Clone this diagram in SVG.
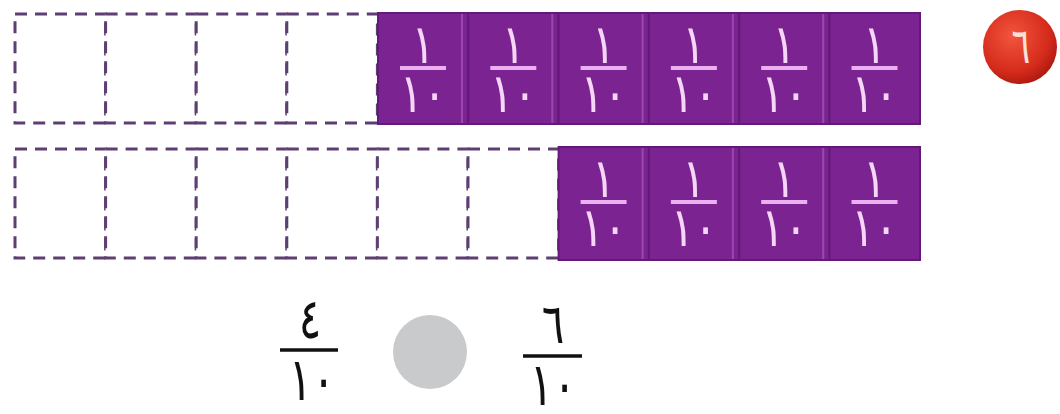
<svg xmlns="http://www.w3.org/2000/svg" width="1060" height="414" viewBox="0 0 1060 414">
<defs>
<radialGradient id="redg" cx="0.4" cy="0.35" r="0.7">
<stop offset="0" stop-color="#f2553d"/>
<stop offset="0.7" stop-color="#d52b1c"/>
<stop offset="1" stop-color="#a8180e"/>
</radialGradient>
</defs>
<style>
.dash{fill:#fff;stroke:#5e3f73;stroke-width:3;stroke-dasharray:12 8}
.tile{fill:#7b2491;stroke:#64197a;stroke-width:2}
.hi{stroke:#9a48b0;stroke-width:2}
.tn{font-family:"DejaVu Sans",sans-serif;font-size:54px;fill:#f6d6f6;text-anchor:middle}
.tl{stroke:#eab0f2;stroke-width:4}
.bn{font-family:"DejaVu Sans",sans-serif;font-size:56px;fill:#111;text-anchor:middle}
.bd{font-family:"DejaVu Sans",sans-serif;font-size:60px;fill:#111;text-anchor:middle}
.bl{stroke:#111;stroke-width:3.5}
</style>
<rect width="1060" height="414" fill="#fff"/>

<g id="row1">
<rect class="dash" x="15" y="14" width="90.6" height="109"/>
<rect class="dash" x="105.6" y="14" width="90.6" height="109"/>
<rect class="dash" x="196.2" y="14" width="90.6" height="109"/>
<rect class="dash" x="286.8" y="14" width="90.6" height="109"/>
<g id="r1t1"><rect class="tile" x="378" y="13" width="90.3" height="111"/><line class="hi" x1="462" y1="14" x2="462" y2="123"/><text class="tn" transform="translate(423,63) scale(0.8,1)">١</text><line class="tl" x1="400" y1="68" x2="446" y2="68"/><text class="tn" transform="translate(423,112) scale(0.8,1)">١٠</text></g>
<g id="r1t2"><rect class="tile" x="468.3" y="13" width="90.3" height="111"/><line class="hi" x1="552.3" y1="14" x2="552.3" y2="123"/><text class="tn" transform="translate(513.3,63) scale(0.8,1)">١</text><line class="tl" x1="490.3" y1="68" x2="536.3" y2="68"/><text class="tn" transform="translate(513.3,112) scale(0.8,1)">١٠</text></g>
<g id="r1t3"><rect class="tile" x="558.6" y="13" width="90.3" height="111"/><line class="hi" x1="642.6" y1="14" x2="642.6" y2="123"/><text class="tn" transform="translate(603.6,63) scale(0.8,1)">١</text><line class="tl" x1="580.6" y1="68" x2="626.6" y2="68"/><text class="tn" transform="translate(603.6,112) scale(0.8,1)">١٠</text></g>
<g id="r1t4"><rect class="tile" x="648.9" y="13" width="90.3" height="111"/><line class="hi" x1="732.9" y1="14" x2="732.9" y2="123"/><text class="tn" transform="translate(693.9,63) scale(0.8,1)">١</text><line class="tl" x1="670.9" y1="68" x2="716.9" y2="68"/><text class="tn" transform="translate(693.9,112) scale(0.8,1)">١٠</text></g>
<g id="r1t5"><rect class="tile" x="739.2" y="13" width="90.3" height="111"/><line class="hi" x1="823.2" y1="14" x2="823.2" y2="123"/><text class="tn" transform="translate(784.2,63) scale(0.8,1)">١</text><line class="tl" x1="761.2" y1="68" x2="807.2" y2="68"/><text class="tn" transform="translate(784.2,112) scale(0.8,1)">١٠</text></g>
<g id="r1t6"><rect class="tile" x="829.5" y="13" width="90.5" height="111"/><text class="tn" transform="translate(874.5,63) scale(0.8,1)">١</text><line class="tl" x1="851.5" y1="68" x2="897.5" y2="68"/><text class="tn" transform="translate(874.5,112) scale(0.8,1)">١٠</text></g>
</g>

<g id="row2">
<rect class="dash" x="15" y="149" width="90.6" height="109"/>
<rect class="dash" x="105.6" y="149" width="90.6" height="109"/>
<rect class="dash" x="196.2" y="149" width="90.6" height="109"/>
<rect class="dash" x="286.8" y="149" width="90.6" height="109"/>
<rect class="dash" x="377.4" y="149" width="90.6" height="109"/>
<rect class="dash" x="468" y="149" width="90.6" height="109"/>
<g id="r2t1"><rect class="tile" x="558.6" y="147" width="90.3" height="113"/><line class="hi" x1="642.6" y1="148" x2="642.6" y2="259"/><text class="tn" transform="translate(603.6,197) scale(0.8,1)">١</text><line class="tl" x1="580.6" y1="202" x2="626.6" y2="202"/><text class="tn" transform="translate(603.6,246) scale(0.8,1)">١٠</text></g>
<g id="r2t2"><rect class="tile" x="648.9" y="147" width="90.3" height="113"/><line class="hi" x1="732.9" y1="148" x2="732.9" y2="259"/><text class="tn" transform="translate(693.9,197) scale(0.8,1)">١</text><line class="tl" x1="670.9" y1="202" x2="716.9" y2="202"/><text class="tn" transform="translate(693.9,246) scale(0.8,1)">١٠</text></g>
<g id="r2t3"><rect class="tile" x="739.2" y="147" width="90.3" height="113"/><line class="hi" x1="823.2" y1="148" x2="823.2" y2="259"/><text class="tn" transform="translate(784.2,197) scale(0.8,1)">١</text><line class="tl" x1="761.2" y1="202" x2="807.2" y2="202"/><text class="tn" transform="translate(784.2,246) scale(0.8,1)">١٠</text></g>
<g id="r2t4"><rect class="tile" x="829.5" y="147" width="90.5" height="113"/><text class="tn" transform="translate(874.5,197) scale(0.8,1)">١</text><line class="tl" x1="851.5" y1="202" x2="897.5" y2="202"/><text class="tn" transform="translate(874.5,246) scale(0.8,1)">١٠</text></g>
</g>

<g id="badge">
<circle cx="1020" cy="47" r="37" fill="url(#redg)"/>
<text transform="translate(1021,63) scale(0.7,1)" font-family="DejaVu Sans, sans-serif" font-size="50" fill="#f8e0d8" text-anchor="middle">٦</text>
</g>

<g id="frac-left">
<text class="bn" transform="translate(310,338) scale(0.75,1)">٤</text>
<line class="bl" x1="280" y1="350" x2="338" y2="350"/>
<text class="bd" transform="translate(312,400) scale(0.72,1)">١٠</text>
</g>

<g id="compare">
<circle cx="430" cy="352" r="37" fill="#c8cacc"/>
</g>

<g id="frac-right">
<text class="bn" transform="translate(553,343) scale(0.75,1)">٦</text>
<line class="bl" x1="523" y1="356" x2="582" y2="356"/>
<text class="bd" transform="translate(553,405) scale(0.72,1)">١٠</text>
</g>

<g id="connectors"/>
</svg>
